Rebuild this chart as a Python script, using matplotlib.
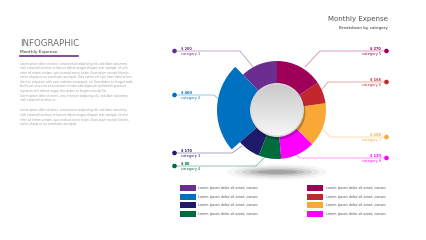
import numpy as np
import matplotlib
matplotlib.use("Agg")
import matplotlib.pyplot as plt
from matplotlib.patches import Circle, Ellipse, Rectangle

# ---- data ----
categories = ["category 1", "category 2", "category 3", "category 4",
              "category 5", "category 6", "category 7", "category 8"]
amounts = ["$ 200", "$ 460", "$ 170", "$ 80", "$ 270", "$ 165", "$ 160", "$ 130"]
# wedge shares (degrees), counter-clockwise from top
shares = [44, 87, 27, 27, 41, 52, 26, 56]
wedge_order = [0, 1, 2, 3, 7, 6, 5, 4]  # category index for each wedge
colors = ["#6B2D90", "#0070C0", "#1F1A6B", "#006B3C",
          "#9E0059", "#C1272D", "#F9A836", "#FF00FF"]
legend_text = "Lorem ipsum dolor sit amet, consec"

W, H = 426, 240
fig = plt.figure(figsize=(W / 100, H / 100), dpi=100)
ax = fig.add_axes([0, 0, 1, 1])
ax.set_xlim(0, W)
ax.set_ylim(0, H)
ax.axis("off")


def Y(py):
    return H - py


cx, cy = 277, 110
gray = "#6d6d6d"

# shadow under pie
for w, h, a in [(100, 16, 0.05), (85, 12, 0.08), (70, 9, 0.12), (55, 6, 0.16), (40, 4, 0.2)]:
    ax.add_patch(Ellipse((cx, Y(172)), w, h, color="#444444", alpha=a, lw=0))

wedges, _ = ax.pie(shares, colors=[colors[i] for i in wedge_order], startangle=90,
                   counterclock=True, radius=49, center=(cx, Y(cy)),
                   wedgeprops=dict(width=23, linewidth=0))
wedges[1].set_radius(60)
wedges[1].set_width(34)
ax.set_xlim(0, W)
ax.set_ylim(0, H)
ax.set_aspect("equal")
ax.axis("off")

# center circle with shadow + gradient
ax.add_patch(Circle((cx + 1, Y(cy) - 2), 27.5, color="#000000", alpha=0.25, lw=0))
ax.add_patch(Circle((cx, Y(cy)), 27, color="#d8d8d8", lw=0))
grad = np.linspace(1, 0, 100).reshape(-1, 1)
im = ax.imshow(grad, cmap=matplotlib.colors.LinearSegmentedColormap.from_list(
    "g", ["#c9c9c9", "#f7f7f7"]), extent=(cx - 26, cx + 26, Y(cy) - 26, Y(cy) + 26),
    origin="lower", zorder=3, aspect="auto")
clip = Circle((cx, Y(cy)), 25.5, transform=ax.transData)
im.set_clip_path(clip)

# header left
ax.text(20, Y(46), "INFOGRAPHIC", fontsize=6.2, color=gray, va="baseline", ha="left")
ax.text(20, Y(53.5), "Monthly Expense", fontsize=3.2, color="#333333", va="baseline")
ax.plot([20, 78], [Y(56), Y(56)], color="#6B2D90", lw=1.2)

lorem1 = ("Lorem ipsum dolor sit amet, consectetuer adipiscing elit, sed diam nonummy\n"
          "nibh euismod tincidunt ut laoreet dolore magna aliquam erat volutpat. Ut wisi\n"
          "enim ad minim veniam, quis nostrud exerci tation ullamcorper suscipit lobortis\n"
          "nisl ut aliquip ex ea commodo consequat. Duis autem vel eum iriure dolor in hen\n"
          "drerit in vulputate velit esse molestie consequat, vel illum dolore eu feugiat nulla\n"
          "facilisis at vero eros et accumsan et iusto odio dignissim qui blandit praesent\n"
          "luptatum zzril delenit augue duis dolore te feugait nulla facilisi.\n"
          "Lorem ipsum dolor sit amet, cons ectetuer adipiscing elit, sed diam nonummy\n"
          "nibh euismod tincidunt ut.")
lorem2 = ("Lorem ipsum dolor sit amet, consectetuer adipiscing elit, sed diam nonummy\n"
          "nibh euismod tincidunt ut laoreet dolore magna aliquam erat volutpat. Ut wisi\n"
          "enim ad minim veniam, quis nostrud exerci tation ullamcorper suscipit lobortis\n"
          "nisl ut aliquip ex ea commodo consequat.")
ax.text(20, Y(61.5), lorem1, fontsize=2.0, color="#a0a0a0", va="top", ha="left", linespacing=1.2)
ax.text(20, Y(108.5), lorem2, fontsize=2.0, color="#a0a0a0", va="top", ha="left", linespacing=1.2)

# header right
ax.text(388, Y(21), "Monthly Expense", fontsize=5.0, color="#555555", ha="right", va="baseline")
ax.text(388, Y(28.5), "Breakdown by category", fontsize=3.0, color="#333333", ha="right", va="baseline")

# callouts: (category, dot_y, knee_x, end_x, end_y)
left = [(0, 51, 240, 253, 67), (1, 95, 214, 221, 101), (2, 153, 232, 242, 146), (3, 166, 256, 266, 156)]
right = [(4, 51, 320, 305, 67), (5, 82, 328, 318, 94), (6, 137, 330, 318, 124), (7, 158, 300, 293, 152)]
cat_color = {0: "#6B2D90", 1: "#0070C0", 2: "#1F1A6B", 3: "#006B3C",
             4: "#9E0059", 5: "#C1272D", 6: "#F9A836", 7: "#FF00FF"}
for ci, dy, kx, ex, ey in left:
    c = cat_color[ci]
    ax.plot([175, kx, ex], [Y(dy), Y(dy), Y(ey)], color=c, lw=0.5, alpha=0.55, solid_joinstyle="miter")
    ax.add_patch(Circle((174.5, Y(dy)), 2.3, color=c, lw=0, zorder=5))
    ax.text(181, Y(dy - 1.5), amounts[ci], fontsize=2.5, color=c, fontweight="bold", va="baseline")
    ax.text(181, Y(dy + 4), categories[ci], fontsize=2.5, color=c, va="baseline")
for ci, dy, kx, ex, ey in right:
    c = cat_color[ci]
    ax.plot([387, kx, ex], [Y(dy), Y(dy), Y(ey)], color=c, lw=0.5, alpha=0.55, solid_joinstyle="miter")
    ax.add_patch(Circle((386.5, Y(dy)), 2.3, color=c, lw=0, zorder=5))
    ax.text(381, Y(dy - 1.5), amounts[ci], fontsize=2.5, color=c, fontweight="bold", va="baseline", ha="right")
    ax.text(381, Y(dy + 4), categories[ci], fontsize=2.5, color=c, va="baseline", ha="right")

# legend
rows = [188, 197, 205, 214]
for k in range(4):
    for col, (rx, tx) in enumerate([(180, 198), (307, 326)]):
        ci = k + 4 * col
        ax.add_patch(Rectangle((rx, Y(rows[k] + 2.7)), 15.5, 5.4, color=cat_color[ci], lw=0))
        ax.text(tx, Y(rows[k]), legend_text, fontsize=2.4, color="#555555", va="center", ha="left")

fig.savefig("out.png", dpi=100, facecolor="white")
